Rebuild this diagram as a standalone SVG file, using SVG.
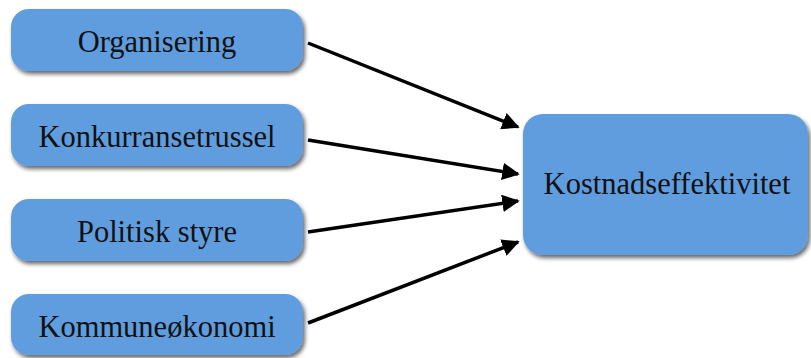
<svg xmlns="http://www.w3.org/2000/svg" width="811" height="358" viewBox="0 0 811 358">
<style>
.box{fill:#619ddf;filter:url(#sh)}
.lbl{font-family:"Liberation Serif","Times New Roman",serif;font-size:30.5px;fill:#111;text-anchor:middle}
.con{stroke:#000;stroke-width:3.5;fill:none;marker-end:url(#ah)}
</style>
<defs>
<filter id="sh" x="-10%" y="-20%" width="130%" height="150%">
<feDropShadow dx="2" dy="3" stdDeviation="2" flood-color="#000" flood-opacity="0.6"/>
</filter>
<marker id="ah" viewBox="0 0 10 10" refX="9" refY="5" markerWidth="5" markerHeight="5" orient="auto" markerUnits="strokeWidth">
<path d="M0,0 L10,5 L0,10 z" fill="#000"/>
</marker>
</defs>
<g id="n1"><rect class="box" x="11" y="9" width="292" height="62" rx="18"/><text class="lbl" x="157" y="52">Organisering</text></g>
<g id="n2"><rect class="box" x="11" y="104" width="292" height="62" rx="18"/><text class="lbl" x="157" y="147">Konkurransetrussel</text></g>
<g id="n3"><rect class="box" x="11" y="199" width="292" height="62" rx="18"/><text class="lbl" x="157" y="242">Politisk styre</text></g>
<g id="n4"><rect class="box" x="11" y="294" width="292" height="61" rx="18"/><text class="lbl" x="157" y="337">Kommuneøkonomi</text></g>
<g id="n5"><rect class="box" x="523" y="114" width="285" height="141" rx="20"/><text class="lbl" x="667" y="194">Kostnadseffektivitet</text></g>
<g id="connectors">
<line class="con" x1="308" y1="43" x2="518" y2="127"/>
<line class="con" x1="308" y1="140" x2="518" y2="174"/>
<line class="con" x1="308" y1="232" x2="518" y2="201"/>
<line class="con" x1="308" y1="323" x2="518" y2="242"/>
</g>
</svg>
